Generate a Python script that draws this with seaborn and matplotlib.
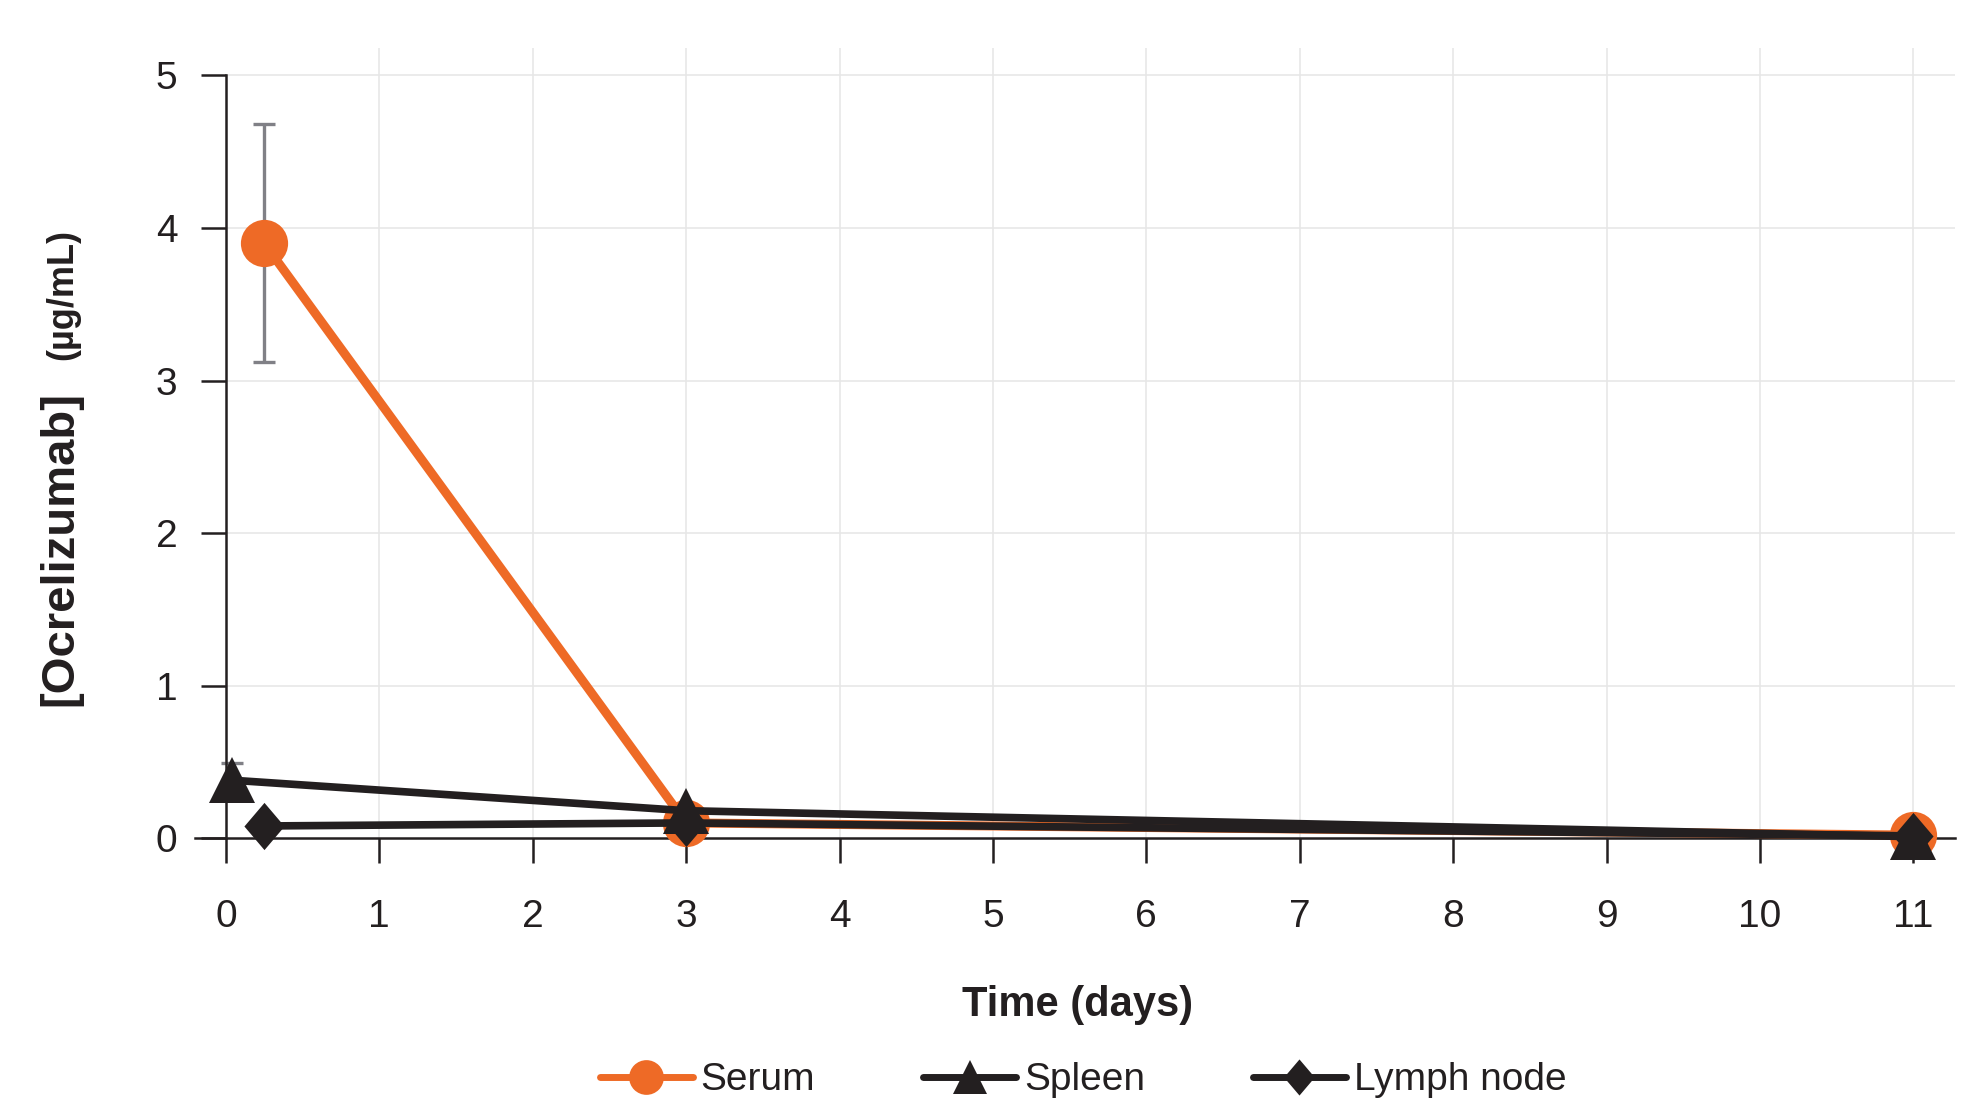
import numpy as np
import pandas as pd
import matplotlib
matplotlib.use('Agg')
import matplotlib.pyplot as plt
import seaborn as sns
from matplotlib.lines import Line2D

# ---- data ----
days_serum = [0.25, 3, 11]
serum = [3.90, 0.10, 0.02]
serum_err = [0.78, 0.0, 0.0]

days_spleen = [0.04, 3, 11]
spleen = [0.38, 0.18, 0.01]
spleen_err = [0.11, 0.0, 0.0]

days_lymph = [0.25, 3, 11]
lymph = [0.08, 0.10, 0.015]

series_names = ['Serum', 'Spleen', 'Lymph node']
x_ticks = list(range(12))
y_ticks = [0, 1, 2, 3, 4, 5]

ORANGE = '#EE6A26'
DARK = '#231F20'
ERR = '#808086'
GRID = '#E6E6E6'

sns.set_theme(style='white')
plt.rcParams['font.family'] = ['Liberation Sans', 'DejaVu Sans']

fig = plt.figure(figsize=(19.62, 10.98), dpi=100)
ax = fig.add_axes([0.0995, 0.2158, 0.8968, 0.7405])
XMIN, XMAX, YMIN, YMAX = -0.2, 11.27, -0.15, 5.18
ax.set_xlim(XMIN, XMAX)
ax.set_ylim(YMIN, YMAX)

# grid
ax.hlines(y_ticks[1:], 0, XMAX, color=GRID, lw=1.1, zorder=0)
ax.vlines(x_ticks[1:], 0, YMAX, color=GRID, lw=1.1, zorder=0)

# error bars
for xs, ys, es in [(days_serum, serum, serum_err), (days_spleen, spleen, spleen_err)]:
    xe = [x for x, e in zip(xs, es) if e > 0]
    ye = [y for y, e in zip(ys, es) if e > 0]
    ee = [e for e in es if e > 0]
    ax.errorbar(xe, ye, yerr=ee, fmt='none', ecolor=ERR, elinewidth=2.4,
                capsize=8, capthick=2.4, zorder=2)

diamond = [(0, 1), (0.85, 0), (0, -1), (-0.85, 0), (0, 1)]

sns.lineplot(x=days_serum, y=serum, ax=ax, color=ORANGE, lw=6.5, marker='o',
             markersize=34, markeredgewidth=0, markeredgecolor=ORANGE,
             clip_on=False, zorder=3)
sns.lineplot(x=days_spleen, y=spleen, ax=ax, color=DARK, lw=5.5, marker='^',
             markersize=33, markeredgewidth=0, markeredgecolor=DARK,
             clip_on=False, zorder=4)
sns.lineplot(x=days_lymph, y=lymph, ax=ax, color=DARK, lw=5.5, marker=diamond,
             markersize=34, markeredgewidth=0, markeredgecolor=DARK,
             clip_on=False, zorder=5)

# spines & ticks
for s in ['top', 'right']:
    ax.spines[s].set_visible(False)
ax.spines['left'].set_position(('data', 0))
ax.spines['left'].set_bounds(0, 5)
ax.spines['bottom'].set_position(('data', 0))
for s in ['left', 'bottom']:
    ax.spines[s].set_color(DARK)
    ax.spines[s].set_linewidth(1.8)

ax.set_xticks(x_ticks)
ax.set_yticks(y_ticks)
ax.tick_params(axis='both', which='major', bottom=True, left=True, direction='out',
               length=18, width=1.8, color=DARK, labelcolor=DARK, labelsize=28)
ax.tick_params(axis='x', pad=26)
ax.tick_params(axis='y', pad=17)
ax.set_xlabel('')
ax.set_ylabel('')

# axis titles
fig.text(0.549, 0.0847, 'Time (days)', fontsize=30, fontweight='bold', color=DARK,
         ha='center', va='center')
fig.text(72 / 1962, 1 - 548 / 1098, '[Ocrelizumab]', fontsize=34, fontweight='bold',
         color=DARK, rotation=90, rotation_mode='anchor', ha='center', va='baseline')
fig.text(72 / 1962, 1 - 295 / 1098, '(µg/mL)', fontsize=26, fontweight='bold',
         color=DARK, rotation=90, rotation_mode='anchor', ha='center', va='baseline')

# legend
handles = [
    Line2D([], [], color=ORANGE, lw=5, marker='o', markersize=25, markeredgewidth=0),
    Line2D([], [], color=DARK, lw=5, marker='^', markersize=25, markeredgewidth=0),
    Line2D([], [], color=DARK, lw=5, marker=diamond, markersize=26, markeredgewidth=0),
]
fig.legend(handles, series_names, loc='center', bbox_to_anchor=(0.5520, 0.0160),
           ncol=3, frameon=False, fontsize=28, labelcolor=DARK, handlelength=2.4,
           handletextpad=0.2, columnspacing=2.77, borderpad=0, borderaxespad=0)

fig.savefig('out.png', dpi=100)
